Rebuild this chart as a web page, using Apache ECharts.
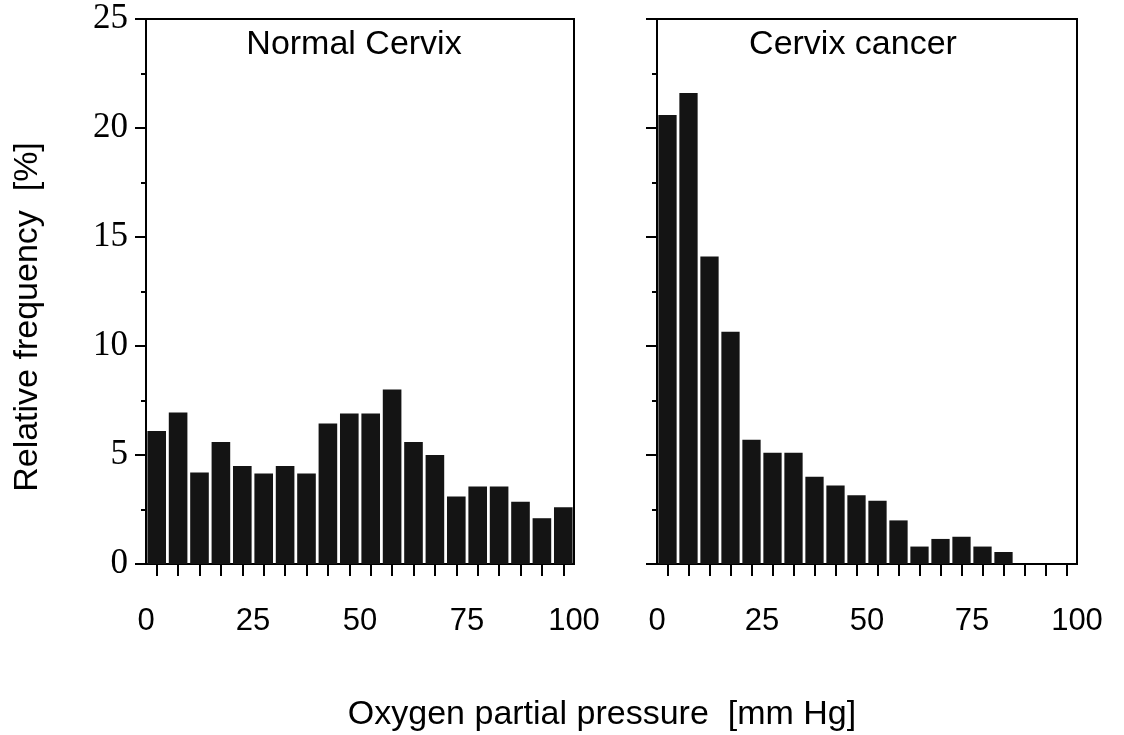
<!DOCTYPE html>
<html>
<head>
<meta charset="utf-8">
<script src="https://cdn.jsdelivr.net/npm/echarts@6/dist/echarts.min.js"></script>
<style>html,body{margin:0;padding:0;background:#fff;}#c{width:1124px;height:735px;}</style>
</head>
<body>
<div id="c"></div>
<script>
// pO2 bins (mm Hg), 5 mm Hg wide
const bins = ['0-5','5-10','10-15','15-20','20-25','25-30','30-35','35-40','40-45','45-50',
              '50-55','55-60','60-65','65-70','70-75','75-80','80-85','85-90','90-95','95-100'];
// Relative frequency [%]
const normalCervix = [6.1, 6.95, 4.2, 5.6, 4.5, 4.15, 4.5, 4.15, 6.45, 6.9,
                      6.9, 8.0, 5.6, 5.0, 3.1, 3.55, 3.55, 2.85, 2.1, 2.6];
const cervixCancer = [20.6, 21.6, 14.1, 10.65, 5.7, 5.1, 5.1, 4.0, 3.6, 3.15,
                      2.9, 2.0, 0.8, 1.15, 1.25, 0.8, 0.55, 0, 0, 0];
const panelTitles = ['Normal Cervix', 'Cervix cancer'];
const xTitle = 'Oxygen partial pressure  [mm Hg]';
const yTitle = 'Relative frequency  [%]';

const sans = 'Liberation Sans, Arial, Helvetica, sans-serif';
const serif = 'Liberation Serif, Times New Roman, serif';
const axisLine = {show: true, lineStyle: {color: '#000', width: 2}};

function catAxis(g) {
  return {
    type: 'category', gridIndex: g, data: bins, position: 'bottom',
    boundaryGap: true,
    axisLine: axisLine,
    axisTick: {show: true, alignWithLabel: true, interval: 0, length: 12, lineStyle: {color: '#000', width: 2}},
    axisLabel: {show: false},
    splitLine: {show: false}
  };
}
function labelAxis(g) {
  return {
    type: 'value', gridIndex: g, min: 0, max: 100, interval: 25, position: 'bottom',
    axisLine: {show: false}, axisTick: {show: false}, splitLine: {show: false},
    axisLabel: {color: '#000', fontFamily: sans, fontSize: 31, margin: 42}
  };
}
function yAx(g, showLabels) {
  return {
    type: 'value', gridIndex: g, min: 0, max: 25, interval: 5,
    axisLine: axisLine,
    axisTick: {show: true, inside: false, length: 11, lineStyle: {color: '#000', width: 2}},
    minorTick: {show: true, splitNumber: 2, length: 5, lineStyle: {color: '#000', width: 2}},
    splitLine: {show: false}, minorSplitLine: {show: false},
    axisLabel: {show: showLabels, color: '#000', fontFamily: serif, fontSize: 35, margin: 18}
  };
}

const chart = echarts.init(document.getElementById('c'));
chart.setOption({
  animation: false,
  backgroundColor: '#fff',
  grid: [
    {left: 146, top: 19, width: 428, height: 545, show: true, borderColor: '#000', borderWidth: 2, backgroundColor: 'transparent'},
    {left: 657, top: 19, width: 420, height: 545, show: true, borderColor: '#000', borderWidth: 2, backgroundColor: 'transparent'}
  ],
  xAxis: [catAxis(0), labelAxis(0), catAxis(1), labelAxis(1)],
  yAxis: [yAx(0, true), yAx(1, false)],
  series: [
    {type: 'bar', xAxisIndex: 0, yAxisIndex: 0, data: normalCervix, barCategoryGap: '13%',
     itemStyle: {color: '#141414'}},
    {type: 'bar', xAxisIndex: 2, yAxisIndex: 1, data: cervixCancer, barCategoryGap: '13%',
     itemStyle: {color: '#141414'}}
  ],
  graphic: [
    {type: 'text', x: 354, y: 45, style: {text: panelTitles[0], font: '34px ' + sans, fill: '#000', textAlign: 'center', textVerticalAlign: 'middle'}},
    {type: 'text', x: 853, y: 45, style: {text: panelTitles[1], font: '34px ' + sans, fill: '#000', textAlign: 'center', textVerticalAlign: 'middle'}},
    {type: 'text', x: 602, y: 715, style: {text: xTitle, font: '34px ' + sans, fill: '#000', textAlign: 'center', textVerticalAlign: 'middle'}},
    {type: 'text', x: 28, y: 317, rotation: Math.PI / 2, style: {text: yTitle, font: '34px ' + sans, fill: '#000', textAlign: 'center', textVerticalAlign: 'middle'}}
  ]
});
</script>
</body>
</html>
